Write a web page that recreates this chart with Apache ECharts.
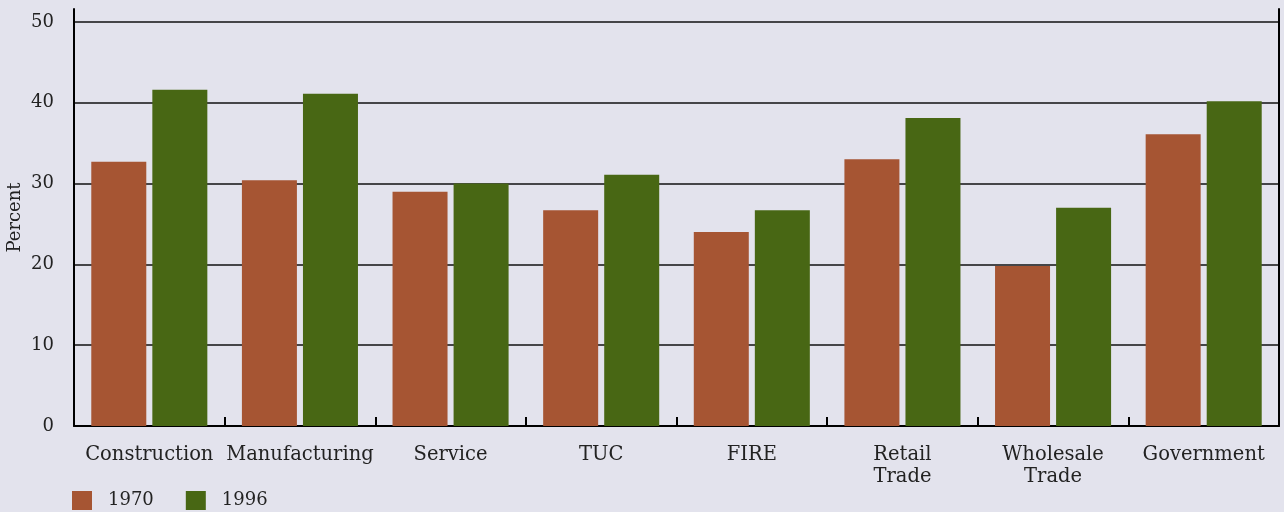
<!DOCTYPE html>
<html>
<head>
<meta charset="utf-8">
<script src="https://cdn.jsdelivr.net/npm/echarts@6/dist/echarts.min.js"></script>
<style>
  html, body { margin: 0; padding: 0; background: #e3e3ed; }
  #chart { width: 1284px; height: 512px; }
</style>
</head>
<body>
<div id="chart"></div>
<script>
const categories = ['Construction', 'Manufacturing', 'Service', 'TUC', 'FIRE', 'Retail\nTrade', 'Wholesale\nTrade', 'Government']
const values1970 = [32.7, 30.4, 29.0, 26.7, 24.0, 33.0, 19.8, 36.1]
const values1996 = [41.6, 41.1, 30.0, 31.1, 26.7, 38.1, 27.0, 40.2]
const yTicks = [0, 10, 20, 30, 40, 50]

const font = 'DejaVu Serif'
const textColor = '#222'

var myChart = echarts.init(document.querySelector('#chart'))

const option = {
  backgroundColor: '#e3e3ed',
  animation: false,
  grid: {
    left: 74,
    right: 5,
    top: 9,
    bottom: 86,
    outerBoundsMode: 'none'
  },
  legend: {
    left: 67,
    top: 486,
    itemWidth: 20,
    itemHeight: 19,
    itemGap: 32,
    icon: 'rect',
    textStyle: { fontFamily: font, fontSize: 18, color: textColor, padding: [0, 0, 0, 11] },
    data: ['1970', '1996']
  },
  xAxis: {
    type: 'category',
    data: categories,
    axisLine: { lineStyle: { color: '#000', width: 2 } },
    // 刻度朝上
    axisTick: { show: true, inside: true, length: 9, lineStyle: { color: '#000', width: 2 } },
    axisLabel: {
      fontFamily: font,
      fontSize: 19.5,
      color: textColor,
      margin: 18,
      lineHeight: 22,
      interval: 0
    }
  },
  yAxis: [
    {
      type: 'value',
      min: 0,
      max: 51.6,
      interval: 10,
      name: 'Percent',
      nameLocation: 'middle',
      nameGap: 50,
      nameMoveOverlap: false,
      nameTextStyle: { fontFamily: font, fontSize: 18, color: textColor },
      axisLine: { show: true, lineStyle: { color: '#000', width: 2 } },
      axisTick: { show: false },
      axisLabel: {
        fontFamily: font,
        fontSize: 18,
        color: textColor,
        margin: 20,
        showMaxLabel: false,
        formatter: v => yTicks.includes(v) ? String(v) : ''
      },
      splitLine: {
        show: true,
        showMaxLine: false,
        lineStyle: { color: '#111', width: 1.5 }
      }
    },
    {
      type: 'value',
      min: 0,
      max: 51.6,
      position: 'right',
      axisLine: { show: true, lineStyle: { color: '#000', width: 2 } },
      axisTick: { show: false },
      axisLabel: { show: false },
      splitLine: { show: false }
    }
  ],
  series: [
    {
      name: '1970',
      type: 'bar',
      data: values1970,
      barWidth: 55,
      barGap: '11%',
      itemStyle: { color: '#a65533' }
    },
    {
      name: '1996',
      type: 'bar',
      data: values1996,
      barWidth: 55,
      barGap: '11%',
      itemStyle: { color: '#486714' }
    }
  ]
}

myChart.setOption(option)
</script>
</body>
</html>
